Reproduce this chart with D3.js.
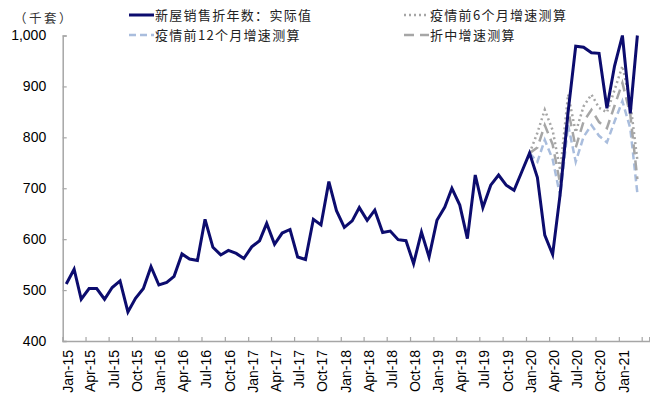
<!DOCTYPE html>
<html>
<head>
<meta charset="utf-8">
<script src="https://cdn.jsdelivr.net/npm/d3@7"></script>
<style>
  html, body { margin: 0; padding: 0; background: #fff; }
  svg { display: block; }
</style>
</head>
<body>
<svg id="chart" width="650" height="400"></svg>
<script>
(function () {
// ---------------- data ----------------
const startMonth = "2015-01";          // first month of the actual series
const projStartMonth = "2020-01";      // projections branch off here

// 新屋销售折年数：实际值 (thousand units, SAAR), Jan-15 .. Mar-21
const actual = [
  512, 541, 482, 503, 503, 482, 505, 518, 457, 484, 503, 546,
  510, 515, 527, 571, 561, 558, 639, 584, 569, 578, 572, 562,
  585, 597, 631, 590, 612, 619, 565, 560, 639, 628, 713, 656,
  623, 636, 662, 637, 657, 613, 616, 599, 597, 552, 614, 565,
  637, 663, 700, 667, 601, 726, 662, 706, 726, 706, 696, 732,
  769, 721, 608, 570, 690, 850, 979, 977, 966, 965, 857, 940,
  1000, 847, 1000
];
// 疫情前6个月增速测算, Jan-20 .. Mar-21
const proj6 = [769, 809, 854, 814, 735, 884, 810, 861, 884, 858, 849, 893, 940, 868, 755];
// 疫情前12个月增速测算, Jan-20 .. Mar-21
const proj12 = [769, 752, 795, 757, 684, 824, 752, 801, 824, 803, 790, 831, 871, 818, 690];
// 折中增速测算, Jan-20 .. Mar-21
const projMid = [769, 780, 824, 786, 708, 854, 780, 831, 854, 830, 818, 862, 907, 845, 718];

const yTicks = [400, 500, 600, 700, 800, 900, 1000];
const lastLabelledTick = "2021-01";    // tick labels shown up to this month
const yUnit = "（千套）";
const seriesNames = ["新屋销售折年数：实际值", "疫情前6个月增速测算", "疫情前12个月增速测算", "折中增速测算"];

// ---------------- helpers ----------------
const parseM = d3.timeParse("%Y-%m");
function monthDates(start, n) {
  const s = parseM(start);
  return d3.range(n).map(i => new Date(s.getFullYear(), s.getMonth() + i, 15));
}
const series = [
  { name: seriesNames[0], values: actual, start: startMonth, color: "#0c0c6e", width: 3, dash: null },
  { name: seriesNames[2], values: proj12, start: projStartMonth, color: "#a9bddd", width: 2.5, dash: "7,4" },
  { name: seriesNames[1], values: proj6, start: projStartMonth, color: "#a6a6a6", width: 2.5, dash: "2,3" },
  { name: seriesNames[3], values: projMid, start: projStartMonth, color: "#a6a6a6", width: 2.5, dash: "10,6" }
];

// ---------------- layout ----------------
const svg = d3.select("#chart");
const pLeft = 62.7, pRight = 649.3, pTop = 35.5, pBottom = 341;

const x = d3.scaleTime()
  .domain([new Date(2015, 0, 1), new Date(2021, 4, 1)])
  .range([pLeft, pRight]);
const y = d3.scaleLinear().domain([400, 1000]).range([pBottom, pTop]);

const tickFont = "'Liberation Sans', Arial, sans-serif";
const cjkFont = "'Noto Sans CJK SC', 'Liberation Sans', sans-serif";
const axisColor = "#a6a6a6";

// clip
svg.append("defs").append("clipPath").attr("id", "plot")
  .append("rect").attr("x", pLeft).attr("y", pTop - 3).attr("width", pRight - pLeft).attr("height", pBottom - pTop + 3);

// y axis
const yAxis = d3.axisLeft(y).tickValues(yTicks).tickSize(-4).tickPadding(16.5).tickFormat(d3.format(","));
const gy = svg.append("g").attr("transform", `translate(${pLeft},0)`).call(yAxis);
gy.select(".domain").attr("stroke", axisColor).attr("stroke-width", 1.5);
gy.selectAll(".tick line").attr("stroke", axisColor).attr("stroke-width", 1.2);
gy.selectAll(".tick text").attr("font-family", tickFont).attr("font-size", 14).attr("fill", "#000");

// x axis
const lastLab = parseM(lastLabelledTick);
const fmt = d3.timeFormat("%b-%y");
const xAxis = d3.axisBottom(x).ticks(d3.timeMonth.every(3)).tickSize(-4)
  .tickFormat(d => d <= lastLab ? fmt(d) : "");
const gx = svg.append("g").attr("transform", `translate(0,${pBottom})`).call(xAxis);
gx.select(".domain").attr("stroke", axisColor).attr("stroke-width", 1.5);
gx.selectAll(".tick line").attr("stroke", axisColor).attr("stroke-width", 1.2);
gx.selectAll(".tick text")
  .attr("font-family", tickFont).attr("font-size", 14).attr("fill", "#000")
  .attr("transform", "rotate(-90)")
  .attr("text-anchor", "end")
  .attr("x", -9).attr("y", 4.5).attr("dy", "0.35em");

// y unit label
svg.append("text").attr("x", 14).attr("y", 23)
  .attr("font-family", cjkFont).attr("font-size", 12.5).attr("fill", "#333")
  .attr("letter-spacing", 2.5).text(yUnit);

// lines
const line = d3.line().x(d => x(d.date)).y(d => y(d.value));
const plot = svg.append("g").attr("clip-path", "url(#plot)");
// draw projections first, actual on top
[series[1], series[2], series[3], series[0]].forEach(s => {
  const dates = monthDates(s.start, s.values.length);
  const pts = s.values.map((v, i) => ({ date: dates[i], value: v }));
  plot.append("path").datum(pts)
    .attr("fill", "none")
    .attr("stroke", s.color)
    .attr("stroke-width", s.width)
    .attr("stroke-linejoin", "miter")
    .attr("stroke-dasharray", s.dash)
    .attr("d", line);
});

// legend
const legendItems = [
  { s: series[0], lx: 129, ly: 15 },
  { s: series[2], lx: 404, ly: 15 },
  { s: series[1], lx: 129, ly: 35 },
  { s: series[3], lx: 404, ly: 35 }
];
const lg = svg.append("g");
legendItems.forEach(it => {
  lg.append("line")
    .attr("x1", it.lx).attr("x2", it.lx + 25).attr("y1", it.ly).attr("y2", it.ly)
    .attr("stroke", it.s.color).attr("stroke-width", it.s.width)
    .attr("stroke-dasharray", it.s.dash);
  lg.append("text")
    .attr("x", it.lx + 26).attr("y", it.ly).attr("dy", "0.35em")
    .attr("font-family", cjkFont).attr("font-size", 13).attr("fill", "#222")
    .attr("letter-spacing", 1.3)
    .text(it.s.name);
});
})();
</script>
</body>
</html>
